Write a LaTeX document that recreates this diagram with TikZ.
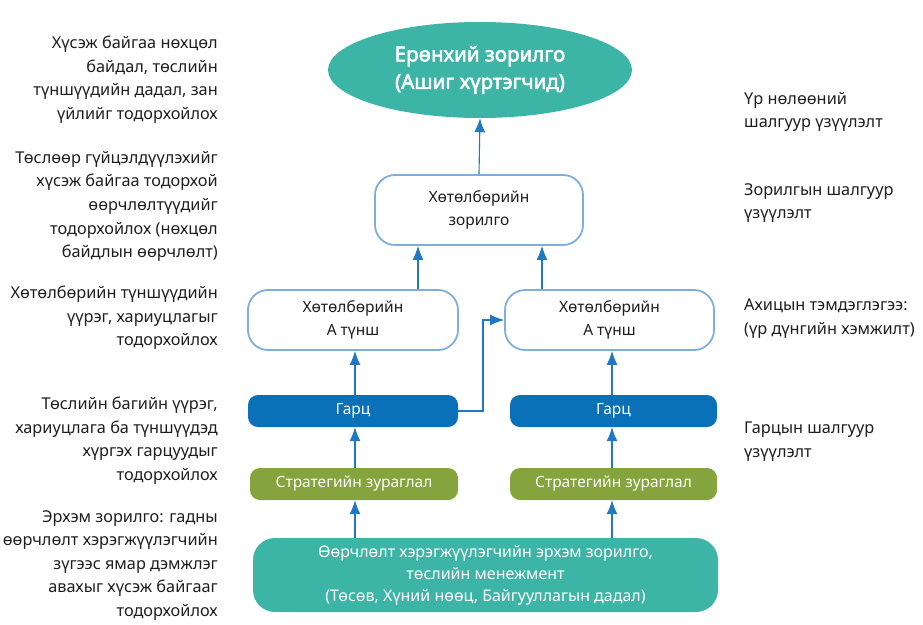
\documentclass[tikz,border=0pt]{standalone}
\usepackage{fontspec}
\setmainfont{Noto Sans}[AutoFakeBold=2.5]
\usetikzlibrary{shapes.geometric,arrows.meta}
\definecolor{goalteal}{HTML}{3DB5A6}
\definecolor{boxline}{HTML}{7EAEDB}
\definecolor{arrowblue}{HTML}{1F78C1}
\definecolor{outblue}{HTML}{0A71B9}
\definecolor{stratgreen}{HTML}{86A43D}
\definecolor{txt}{HTML}{1E1E1E}
\begin{document}
\begin{tikzpicture}[x=1pt,y=-1pt,
  every node/.style={font=\fontsize{16.3}{23.6}\selectfont, text=txt, inner sep=0pt},
  inbox/.style={font=\fontsize{15.5}{23}\selectfont},
  outlinebox/.style={inbox, draw=boxline, line width=1.8pt, rounded corners=20pt, fill=white, align=center},
  filledbox/.style={inbox, rounded corners=10pt, text=white, align=center},
  flow/.style={draw=arrowblue, line width=1.1pt, -{Latex[length=14pt,width=11pt]}},
  lefttext/.style={anchor=north east, align=right},
  righttext/.style={anchor=north west, align=left}]
\useasboundingbox (0,0) rectangle (923,624);

% central chain
\node[ellipse, fill=goalteal, minimum width=304pt, minimum height=96pt, text=white,
      font=\fontsize{20.5}{27.5}\selectfont\bfseries, align=center] (goal) at (480,70)
      {Ерөнхий зорилго\\(Ашиг хүртэгчид)};
\node[outlinebox, minimum width=208pt, minimum height=70pt] (pgoal) at (479,210)
      {Хөтөлбөрийн\\зорилго};
\node[outlinebox, minimum width=210pt, minimum height=60pt] (pa) at (353,320)
      {Хөтөлбөрийн\\А түнш};
\node[outlinebox, minimum width=209pt, minimum height=60pt] (pb) at (609.5,320)
      {Хөтөлбөрийн\\А түнш};
\node[filledbox, fill=outblue, minimum width=210pt, minimum height=32pt] (oa) at (353,411) {Гарц};
\node[filledbox, fill=outblue, minimum width=207pt, minimum height=32pt] (ob) at (613.5,411) {Гарц};
\node[filledbox, fill=stratgreen, minimum width=208pt, minimum height=32pt] (sa) at (354,484) {Стратегийн зураглал};
\node[filledbox, fill=stratgreen, minimum width=207pt, minimum height=32pt] (sb) at (613.5,484) {Стратегийн зураглал};
\node[filledbox, fill=goalteal, rounded corners=22pt, minimum width=465pt, minimum height=74pt,
      font=\fontsize{16}{22}\selectfont] (base) at (485.5,575)
      {Өөрчлөлт хэрэгжүүлэгчийн эрхэм зорилго,\\төслийн менежмент\\(Төсөв, Хүний нөөц, Байгууллагын дадал)};

% connectors
\draw[flow] (pgoal.north) -- (goal.south);
\draw[flow] (pa.north -| 418,0) -- (pgoal.south -| 418,0);
\draw[flow] (pb.north -| 542,0) -- (pgoal.south -| 542,0);
\draw[flow] (oa.north -| 355,0) -- (pa.south -| 355,0);
\draw[flow] (ob.north -| 612,0) -- (pb.south -| 612,0);
\draw[flow] (sa.north -| 355,0) -- (oa.south -| 355,0);
\draw[flow] (sb.north -| 612,0) -- (ob.south -| 612,0);
\draw[flow] (base.north -| 355,0) -- (sa.south -| 355,0);
\draw[flow] (base.north -| 612,0) -- (sb.south -| 612,0);
\draw[flow] (oa.east) -- (483,411) |- (pb.west);

% left descriptions
\node[lefttext] (l1) at (218,36) {Хүсэж байгаа нөхцөл\\байдал, төслийн\\түншүүдийн дадал, зан\\үйлийг тодорхойлох};
\node[lefttext] (l2) at (218,151) {Төслөөр гүйцэлдүүлэхийг\\хүсэж байгаа тодорхой\\өөрчлөлтүүдийг\\тодорхойлох (нөхцөл\\байдлын өөрчлөлт)};
\node[lefttext] (l3) at (218,286) {Хөтөлбөрийн түншүүдийн\\үүрэг, хариуцлагыг\\тодорхойлох};
\node[lefttext] (l4) at (218,397) {Төслийн багийн үүрэг,\\хариуцлага ба түншүүдэд\\хүргэх гарцуудыг\\тодорхойлох};
\node[lefttext] (l5) at (218,510) {Эрхэм зорилго: гадны\\өөрчлөлт хэрэгжүүлэгчийн\\зүгээс ямар дэмжлэг\\авахыг хүсэж байгааг\\тодорхойлох};

% right indicators
\node[righttext] (r1) at (744,92) {Үр нөлөөний\\шалгуур үзүүлэлт};
\node[righttext] (r2) at (744,183) {Зорилгын шалгуур\\үзүүлэлт};
\node[righttext] (r3) at (744,299) {Ахицын тэмдэглэгээ:\\(үр дүнгийн хэмжилт)};
\node[righttext] (r4) at (744,422) {Гарцын шалгуур\\үзүүлэлт};
\end{tikzpicture}
\end{document}
